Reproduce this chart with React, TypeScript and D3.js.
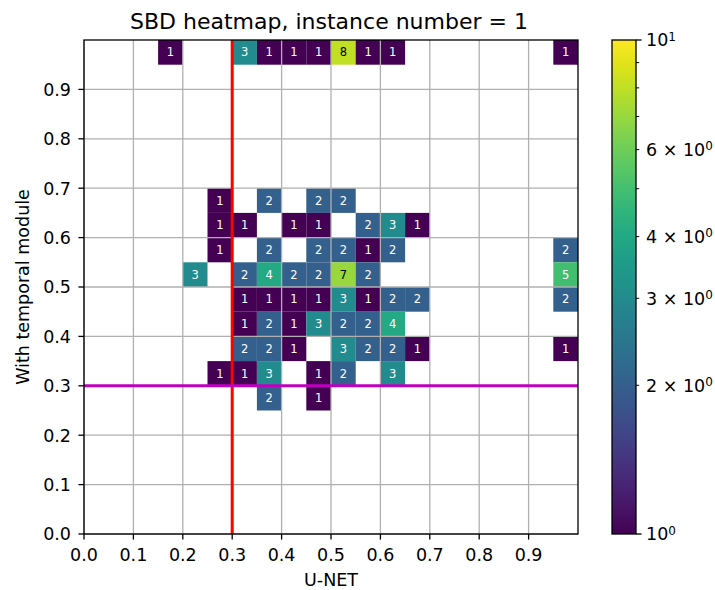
import React from 'react';
import * as d3 from 'd3';

// bin size of the 2d histogram
const BIN = 0.05;

// one entry per row of cells: lower y edge, lower x edges, counts
const rowY = [0.95, 0.65, 0.6, 0.55, 0.5, 0.45, 0.4, 0.35, 0.3, 0.25];
const rowX = [
  [0.15, 0.3, 0.35, 0.4, 0.45, 0.5, 0.55, 0.6, 0.95],
  [0.25, 0.35, 0.45, 0.5],
  [0.25, 0.3, 0.4, 0.45, 0.55, 0.6, 0.65],
  [0.25, 0.35, 0.45, 0.5, 0.55, 0.6, 0.95],
  [0.2, 0.3, 0.35, 0.4, 0.45, 0.5, 0.55, 0.95],
  [0.3, 0.35, 0.4, 0.45, 0.5, 0.55, 0.6, 0.65, 0.95],
  [0.3, 0.35, 0.4, 0.45, 0.5, 0.55, 0.6],
  [0.3, 0.35, 0.4, 0.5, 0.55, 0.6, 0.65, 0.95],
  [0.25, 0.3, 0.35, 0.45, 0.5, 0.6],
  [0.35, 0.45],
];
const rowCounts = [
  [1, 3, 1, 1, 1, 8, 1, 1, 1],
  [1, 2, 2, 2],
  [1, 1, 1, 1, 2, 3, 1],
  [1, 2, 2, 2, 1, 2, 2],
  [3, 2, 4, 2, 2, 7, 2, 5],
  [1, 1, 1, 1, 3, 1, 2, 2, 2],
  [1, 2, 1, 3, 2, 2, 4],
  [2, 2, 1, 3, 2, 2, 1, 1],
  [1, 1, 3, 1, 2, 3],
  [2, 1],
];

const axisTicks = [0, 0.1, 0.2, 0.3, 0.4, 0.5, 0.6, 0.7, 0.8, 0.9];
const unetLine = 0.3;
const temporalLine = 0.3;

// colorbar ticks (log scale 1..10)
const cbMajor = [1, 10];
const cbMinor = [2, 3, 4, 5, 6, 7, 8, 9];
const cbLabels: [number, string, string][] = [
  [10, '', '1'],
  [6, '6 × ', '0'],
  [4, '4 × ', '0'],
  [3, '3 × ', '0'],
  [2, '2 × ', '0'],
  [1, '', '0'],
];

const FONT = 'DejaVu Sans, sans-serif';
const TICK_FS = 17.5;

const App = () => {
  const width = 715;
  const height = 590;
  const left = 84;
  const top = 40;
  const size = 494;

  const x = d3.scaleLinear().domain([0, 1]).range([left, left + size]);
  const y = d3.scaleLinear().domain([0, 1]).range([top + size, top]);
  const norm = d3.scaleLog().domain([1, 10]).range([0, 1]).clamp(true);
  const color = (v: number) => d3.interpolateViridis(norm(v));

  const cbX = 612;
  const cbW = 24;
  const cbY = d3.scaleLog().domain([1, 10]).range([top + size, top]);

  const cells = rowY.flatMap((yy, i) =>
    rowX[i].map((xx, j) => ({ x: xx, y: yy, c: rowCounts[i][j] }))
  );

  const stops = d3.range(0, 1.0001, 0.05);

  return (
    <svg width={width} height={height} style={{ position: 'absolute', left: 0, top: 0 }} fontFamily={FONT}>
      <defs>
        <linearGradient id="vir" x1="0" y1="1" x2="0" y2="0">
          {stops.map((t) => (
            <stop key={t} offset={t} stopColor={d3.interpolateViridis(t)} />
          ))}
        </linearGradient>
      </defs>
      <rect width={width} height={height} fill="#fff" />

      {/* cells */}
      {cells.map((d, i) => (
        <rect
          key={i}
          x={x(d.x)}
          y={y(d.y + BIN)}
          width={x(d.x + BIN) - x(d.x)}
          height={y(d.y) - y(d.y + BIN)}
          fill={color(d.c)}
        />
      ))}

      {/* grid */}
      {axisTicks.map((t) => (
        <g key={t}>
          <line x1={x(t)} x2={x(t)} y1={top} y2={top + size} stroke="#b0b0b0" strokeWidth={1.3} />
          <line x1={left} x2={left + size} y1={y(t)} y2={y(t)} stroke="#b0b0b0" strokeWidth={1.3} />
        </g>
      ))}

      {/* cell labels */}
      {cells.map((d, i) => (
        <text
          key={i}
          x={x(d.x + BIN / 2)}
          y={y(d.y + BIN / 2)}
          dy="0.36em"
          textAnchor="middle"
          fontSize={11.5}
          fill={norm(d.c) > 0.75 ? '#000' : '#fff'}
        >
          {d.c}
        </text>
      ))}

      {/* threshold lines */}
      <line x1={x(unetLine)} x2={x(unetLine)} y1={top} y2={top + size} stroke="#ff0000" strokeWidth={3} />
      <line x1={left} x2={left + size} y1={y(temporalLine)} y2={y(temporalLine)} stroke="#bf00bf" strokeWidth={3} />

      {/* frame */}
      <rect x={left} y={top} width={size} height={size} fill="none" stroke="#000" strokeWidth={1.3} />

      {/* x axis */}
      {axisTicks.map((t) => (
        <g key={t}>
          <line x1={x(t)} x2={x(t)} y1={top + size} y2={top + size + 5.6} stroke="#000" strokeWidth={1.3} />
          <text x={x(t)} y={561} textAnchor="middle" fontSize={TICK_FS}>{t.toFixed(1)}</text>
        </g>
      ))}
      <text x={left + size / 2} y={586} textAnchor="middle" fontSize={TICK_FS}>U-NET</text>

      {/* y axis */}
      {axisTicks.map((t) => (
        <g key={t}>
          <line x1={left - 5.6} x2={left} y1={y(t)} y2={y(t)} stroke="#000" strokeWidth={1.3} />
          <text x={71} y={y(t)} dy="0.36em" textAnchor="end" fontSize={TICK_FS}>{t.toFixed(1)}</text>
        </g>
      ))}
      <text
        transform={`translate(29,${top + size / 2}) rotate(-90)`}
        textAnchor="middle"
        fontSize={TICK_FS}
      >
        With temporal module
      </text>

      {/* title */}
      <text x={329} y={29} textAnchor="middle" fontSize={22}>
        SBD heatmap, instance number = 1
      </text>

      {/* colorbar */}
      <rect x={cbX} y={top} width={cbW} height={size} fill="url(#vir)" />
      <rect x={cbX} y={top} width={cbW} height={size} fill="none" stroke="#000" strokeWidth={1.3} />
      {cbMajor.map((v) => (
        <line key={v} x1={cbX + cbW} x2={cbX + cbW + 5.6} y1={cbY(v)} y2={cbY(v)} stroke="#000" strokeWidth={1.3} />
      ))}
      {cbMinor.map((v) => (
        <line key={v} x1={cbX + cbW} x2={cbX + cbW + 3.2} y1={cbY(v)} y2={cbY(v)} stroke="#000" strokeWidth={1} />
      ))}
      {cbLabels.map(([v, pre, exp]) => (
        <text key={v} x={cbX + cbW + 10} y={cbY(v)} dy="0.36em" fontSize={TICK_FS}>
          {pre}10
          <tspan dy="-0.45em" fontSize={12}>{exp}</tspan>
        </text>
      ))}
    </svg>
  );
};

export default App;
